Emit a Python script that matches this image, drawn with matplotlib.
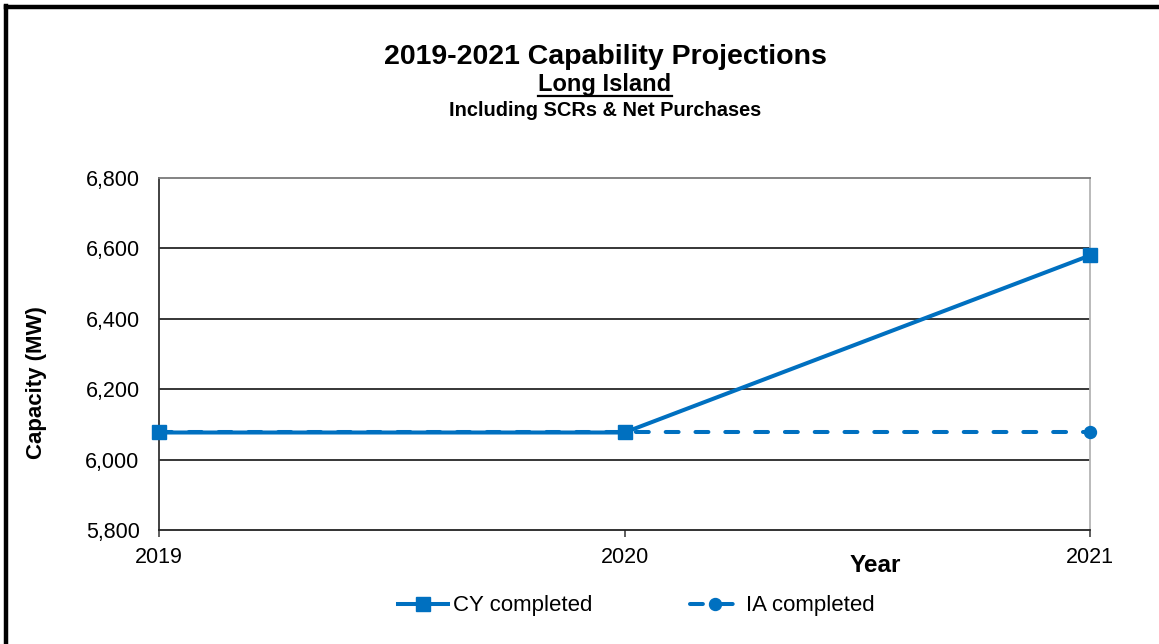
import matplotlib
matplotlib.use("Agg")
import matplotlib.pyplot as plt
from matplotlib.lines import Line2D

plt.rcParams['font.family'] = ['Liberation Sans', 'DejaVu Sans']

# Data
years = [2019, 2020, 2021]
cy_completed = [6077, 6077, 6580]
ia_completed = [6077, 6077, 6077]
y_ticks = [5800, 6000, 6200, 6400, 6600, 6800]
y_tick_labels = ["5,800", "6,000", "6,200", "6,400", "6,600", "6,800"]

blue = "#0070C0"

fig = plt.figure(figsize=(11.59, 6.44), dpi=100)
ax = fig.add_axes([159 / 1159, 1 - 530 / 644, (1090 - 159) / 1159, (530 - 178) / 644])

ax.set_xlim(years[0], years[-1])
ax.set_ylim(y_ticks[0], y_ticks[-1])

# Horizontal gridlines
for v in y_ticks[1:-1]:
    ax.axhline(v, color="black", lw=1.1, zorder=1)

ax.plot(years, ia_completed, color=blue, lw=2.9, linestyle=(0, (3.2, 4.2)),
        dash_capstyle="round", marker="o", markersize=8.6, clip_on=False,
        zorder=3, label="IA completed")
ax.plot(years, cy_completed, color=blue, lw=2.9, marker="s", markersize=9.4,
        clip_on=False, zorder=4, label="CY completed")

ax.set_yticks(y_ticks)
ax.set_yticklabels(y_tick_labels)
ax.set_xticks(years)
ax.set_xticklabels([str(y) for y in years])
ax.tick_params(axis="y", length=0, pad=14, labelsize=15.5)
ax.tick_params(axis="x", length=5, width=1.1, direction="out", pad=7, labelsize=15.5,
               color="#333333")

ax.spines["left"].set_color("#333333")
ax.spines["left"].set_linewidth(1.3)
ax.spines["bottom"].set_color("#222222")
ax.spines["bottom"].set_linewidth(1.3)
ax.spines["top"].set_color("#7a7a7a")
ax.spines["top"].set_linewidth(1.3)
ax.spines["right"].set_color("#b4b4b4")
ax.spines["right"].set_linewidth(1.3)

# Titles
cx = 605 / 1159
fig.text(cx, 1 - 57 / 644, "2019-2021 Capability Projections", ha="center", va="center",
         fontsize=20.5, fontweight="bold")
sub = fig.text(cx, 1 - 84 / 644, "Long Island", ha="center", va="center",
               fontsize=17, fontweight="bold")
fig.text(cx, 1 - 111 / 644, "Including SCRs & Net Purchases", ha="center", va="center",
         fontsize=14.4, fontweight="bold")

# Underline for the location subtitle
fig.canvas.draw()
bb = sub.get_window_extent().transformed(fig.transFigure.inverted())
uy = 1 - 96 / 644
fig.add_artist(Line2D([bb.x0, bb.x1], [uy, uy], transform=fig.transFigure,
                      color="black", lw=1.6))

# Axis labels
fig.text(37 / 1159, 1 - 383 / 644, "Capacity (MW)", rotation=90, ha="center", va="center",
         fontsize=16, fontweight="bold")
fig.text(875 / 1159, 1 - 565 / 644, "Year", ha="center", va="center",
         fontsize=17.5, fontweight="bold")

# Legend
handles, labels = ax.get_legend_handles_labels()
fig.legend(handles[::-1], labels[::-1], loc="center", ncol=2,
           bbox_to_anchor=(636 / 1159, 1 - 606 / 644), frameon=False,
           fontsize=16, handlelength=2.25, handletextpad=0.25, columnspacing=4.4)

# Outer frame edges
fig.add_artist(Line2D([6 / 1159, 6 / 1159], [0, 1 - 6 / 644], transform=fig.transFigure,
                      color="black", lw=3.2))
fig.add_artist(Line2D([6 / 1159, 1], [1 - 7 / 644, 1 - 7 / 644], transform=fig.transFigure,
                      color="black", lw=3.2))

fig.savefig("out.png", dpi=100)
